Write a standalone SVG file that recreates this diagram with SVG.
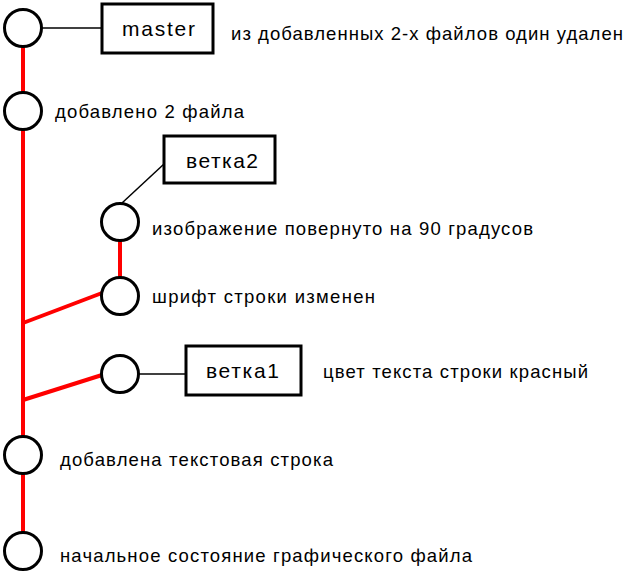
<svg xmlns="http://www.w3.org/2000/svg" width="631" height="575" viewBox="0 0 631 575">
<style>
.c{fill:#fff;stroke:#000;stroke-width:3}
.b{fill:#fff;stroke:#000;stroke-width:3}
.r{stroke:#f00;stroke-width:4;fill:none}
.k{stroke:#000;stroke-width:1.5;fill:none}
text{font-family:"Liberation Sans",Arial,sans-serif;font-size:18.5px;fill:#000}
.bl{font-size:21px}
</style>
<rect width="631" height="575" fill="#fff"/>
<g id="connectors">
<line class="r" x1="23" y1="45" x2="23" y2="94"/>
<line class="r" x1="23" y1="128" x2="23" y2="438"/>
<line class="r" x1="23" y1="472" x2="23" y2="534"/>
<line class="r" x1="23" y1="323" x2="102" y2="293"/>
<line class="r" x1="23" y1="400" x2="102" y2="375"/>
<line class="r" x1="120" y1="240" x2="120" y2="279"/>
<line class="k" x1="42" y1="28" x2="102" y2="28"/>
<line class="k" x1="122" y1="203" x2="164" y2="164"/>
<line class="k" x1="138" y1="374" x2="186" y2="374"/>
</g>
<g id="n1"><circle class="c" cx="23" cy="28" r="18.5"/><text x="231" y="40" textLength="392" lengthAdjust="spacing">из добавленных 2-х файлов один удален</text></g>
<g id="master"><rect class="b" x="102" y="4" width="111" height="49"/><text class="bl" x="122" y="36" textLength="73" lengthAdjust="spacing">master</text></g>
<g id="n2"><circle class="c" cx="23" cy="111" r="18.5"/><text x="55" y="118" textLength="189" lengthAdjust="spacing">добавлено 2 файла</text></g>
<g id="vetka2"><rect class="b" x="164" y="136" width="111" height="47"/><text class="bl" x="186" y="168" textLength="72" lengthAdjust="spacing">ветка2</text></g>
<g id="n3"><circle class="c" cx="120" cy="222" r="18.5"/><text x="152" y="235" textLength="381" lengthAdjust="spacing">изображение повернуто на 90 градусов</text></g>
<g id="n4"><circle class="c" cx="120" cy="296" r="18.5"/><text x="152" y="303" textLength="223" lengthAdjust="spacing">шрифт строки изменен</text></g>
<g id="n5"><circle class="c" cx="120" cy="374" r="18.5"/><text x="323" y="378" textLength="265" lengthAdjust="spacing">цвет текста строки красный</text></g>
<g id="vetka1"><rect class="b" x="186" y="346" width="115" height="49"/><text class="bl" x="206" y="378" textLength="73" lengthAdjust="spacing">ветка1</text></g>
<g id="n6"><circle class="c" cx="23" cy="455" r="18.5"/><text x="60" y="466" textLength="273" lengthAdjust="spacing">добавлена текстовая строка</text></g>
<g id="n7"><circle class="c" cx="23" cy="551" r="18.5"/><text x="60" y="562" textLength="412" lengthAdjust="spacing">начальное состояние графического файла</text></g>
</svg>
